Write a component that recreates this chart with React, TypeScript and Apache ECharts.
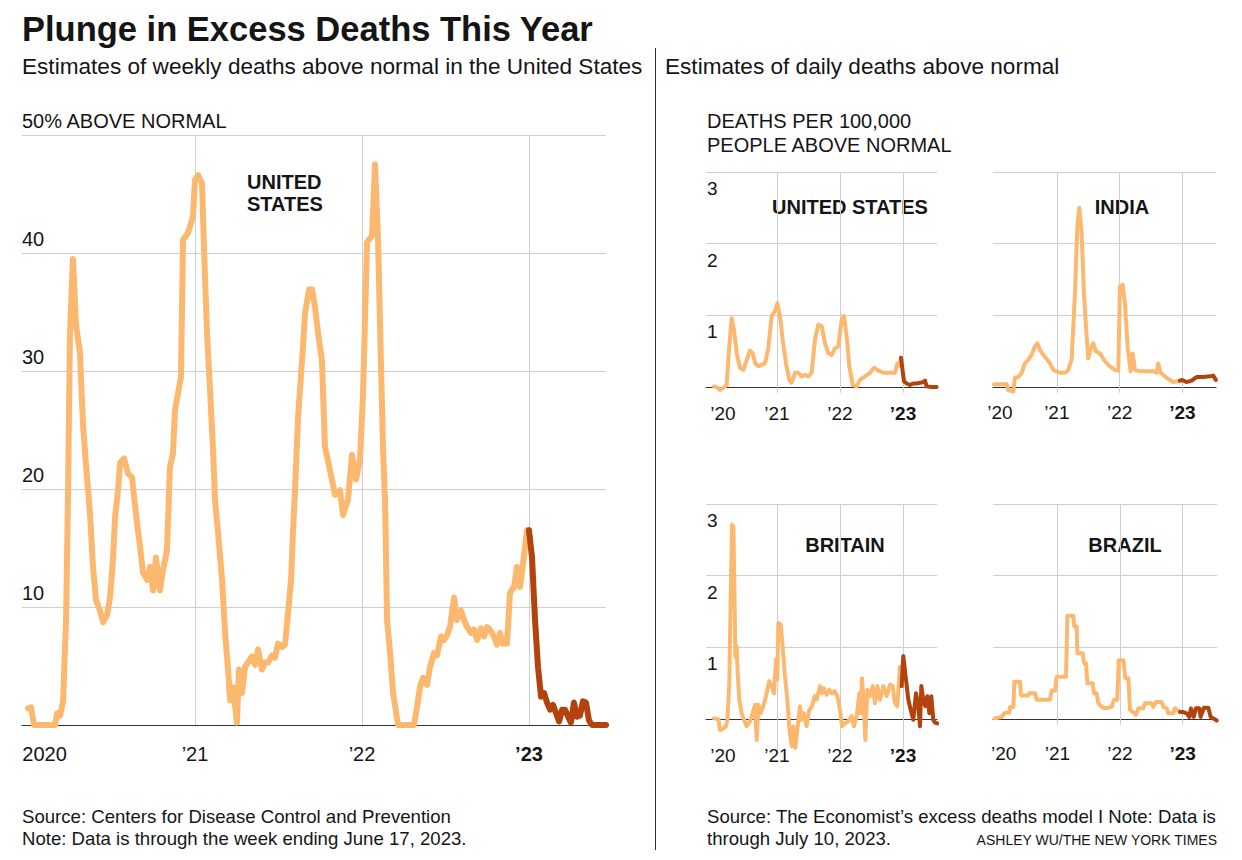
import React, { useEffect, useRef } from "react";
import * as echarts from "echarts";

// ---------- DATA ----------
const yearTicks = [2020, 2021, 2022, 2023];
const mainYearLabels = ["2020", "\u201921", "\u201922", "\u201923"];
const panelYearLabels = ["\u201920", "\u201921", "\u201922", "\u201923"];
const panelValueTicks = [1, 2, 3];

// Weekly excess deaths, % above normal, United States (CDC). [decimal year, %]
const usWeeklyBefore2023: [number, number][] = [
  [2020.0, 1.4], [2020.018, 1.5], [2020.036, 0], [2020.162, 0], [2020.174, 1.0], [2020.192, 0.8],
  [2020.21, 2.0], [2020.228, 9], [2020.24, 20], [2020.251, 33], [2020.269, 39.5], [2020.287, 34],
  [2020.311, 31.5], [2020.329, 25.5], [2020.353, 21], [2020.371, 18], [2020.389, 13.4], [2020.407, 10.6],
  [2020.431, 9.7], [2020.449, 8.7], [2020.473, 9.3], [2020.491, 10.8], [2020.509, 14], [2020.521, 17.6],
  [2020.539, 19.9], [2020.551, 22.2], [2020.575, 22.6], [2020.599, 21.3], [2020.623, 21], [2020.635, 19.3],
  [2020.653, 17.1], [2020.671, 15.1], [2020.689, 12.9], [2020.713, 12.3], [2020.731, 13.4], [2020.749, 11.4],
  [2020.766, 14.2], [2020.79, 11.4], [2020.808, 13.1], [2020.832, 14.8], [2020.85, 21.9], [2020.868, 23],
  [2020.88, 26.7], [2020.898, 28.1], [2020.916, 29.5], [2020.928, 41.1], [2020.958, 41.7], [2020.988, 43.1],
  [2021.0, 46.2], [2021.018, 46.6], [2021.042, 45.9], [2021.054, 40.3], [2021.072, 33.2], [2021.09, 28.4],
  [2021.108, 23.3], [2021.12, 19], [2021.138, 16.3], [2021.162, 12.3], [2021.18, 7.8], [2021.198, 4.7],
  [2021.21, 2.1], [2021.228, 3.2], [2021.251, 0.2], [2021.263, 4.7], [2021.281, 2.7], [2021.299, 4.9],
  [2021.317, 5.3], [2021.341, 5.8], [2021.359, 5.1], [2021.377, 6.4], [2021.401, 4.7], [2021.419, 5.3],
  [2021.437, 5.3], [2021.461, 5.9], [2021.479, 5.7], [2021.497, 6.9], [2021.521, 6.6], [2021.539, 6.8],
  [2021.557, 9.5], [2021.575, 12.3], [2021.587, 16.5], [2021.599, 19.9], [2021.617, 26.1], [2021.641, 30.9],
  [2021.659, 34.9], [2021.683, 36.9], [2021.701, 36.9], [2021.719, 35.4], [2021.737, 33.2], [2021.76, 30.9],
  [2021.778, 23.6], [2021.808, 21.6], [2021.838, 19.5], [2021.868, 19.9], [2021.886, 17.8], [2021.916, 19.1],
  [2021.94, 22.9], [2021.964, 20.8], [2021.988, 22.5], [2022.006, 28], [2022.03, 40.9], [2022.06, 41.5],
  [2022.078, 47.5], [2022.096, 41.1], [2022.114, 30.3], [2022.126, 23.3], [2022.138, 19], [2022.15, 8.9],
  [2022.168, 6.1], [2022.186, 2.7], [2022.216, 0], [2022.311, 0], [2022.329, 1.5], [2022.347, 3.2],
  [2022.365, 4], [2022.389, 3.4], [2022.407, 4.9], [2022.431, 6.1], [2022.449, 5.9], [2022.473, 7.5],
  [2022.491, 7.2], [2022.509, 7.6], [2022.527, 8.3], [2022.551, 10.8], [2022.569, 8.9], [2022.593, 9.7],
  [2022.611, 8.9], [2022.629, 8.3], [2022.653, 7.8], [2022.671, 8.1], [2022.689, 7.2], [2022.713, 8.2],
  [2022.731, 7.5], [2022.749, 8.3], [2022.766, 8.1], [2022.79, 7.5], [2022.808, 6.8], [2022.826, 7.8],
  [2022.844, 6.9], [2022.868, 6.9], [2022.886, 11.2], [2022.91, 11.7], [2022.928, 13.4], [2022.946, 11.7],
  [2022.964, 13.7], [2022.988, 16.5], [2023.0, 16.5],
];
const usWeekly2023: [number, number][] = [
  [2023.0, 16.5], [2023.018, 14.2], [2023.036, 8.9], [2023.054, 4.9], [2023.072, 2.4], [2023.09, 2.7],
  [2023.108, 1.9], [2023.126, 1.3], [2023.144, 1.7], [2023.162, 1.0], [2023.18, 0.3], [2023.198, 1.3],
  [2023.216, 1.3], [2023.234, 0.7], [2023.251, 0.2], [2023.269, 1.9], [2023.287, 0.7], [2023.305, 0.8],
  [2023.323, 2.0], [2023.341, 1.9], [2023.359, 0.4], [2023.377, 0], [2023.461, 0],
];

// Daily excess deaths per 100,000 people (The Economist). [decimal year, value]
const usDailyBefore2023: [number, number][] = [
  [2020.0, 0.01], [2020.042, 0], [2020.095, -0.04], [2020.148, -0.01], [2020.201, 0.03], [2020.243, 0.57],
  [2020.28, 0.96], [2020.317, 0.8], [2020.36, 0.47], [2020.413, 0.27], [2020.466, 0.24], [2020.519, 0.38],
  [2020.571, 0.51], [2020.614, 0.47], [2020.656, 0.33], [2020.704, 0.29], [2020.757, 0.31], [2020.81, 0.33],
  [2020.862, 0.54], [2020.915, 0.99], [2020.968, 1.06], [2021.005, 1.17], [2021.048, 0.99], [2021.09, 0.66],
  [2021.143, 0.33], [2021.196, 0.1], [2021.233, 0.06], [2021.286, 0.2], [2021.339, 0.2], [2021.392, 0.15],
  [2021.444, 0.17], [2021.497, 0.15], [2021.55, 0.2], [2021.603, 0.66], [2021.656, 0.87], [2021.709, 0.85],
  [2021.762, 0.61], [2021.815, 0.47], [2021.868, 0.45], [2021.921, 0.54], [2021.974, 0.57], [2022.026, 0.94],
  [2022.063, 0.99], [2022.106, 0.71], [2022.148, 0.29], [2022.201, 0.03], [2022.265, 0.01], [2022.317, 0.1],
  [2022.397, 0.15], [2022.476, 0.2], [2022.54, 0.27], [2022.608, 0.23], [2022.688, 0.2], [2022.794, 0.2],
  [2022.873, 0.2], [2022.91, 0.33], [2022.942, 0.3], [2022.968, 0.41],
];
const usDaily2023: [number, number][] = [
  [2022.968, 0.41], [2023.016, 0.08], [2023.058, 0.05], [2023.111, 0.03], [2023.164, 0.05], [2023.217, 0.05],
  [2023.27, 0.06], [2023.323, 0.07], [2023.349, 0.09], [2023.376, 0.01], [2023.455, 0], [2023.534, 0],
];

const indiaDailyBefore2023: [number, number][] = [
  [2020.0, 0.04], [2020.202, 0.04], [2020.228, -0.04], [2020.308, -0.06], [2020.334, 0.13], [2020.387, 0.14],
  [2020.44, 0.2], [2020.493, 0.33], [2020.546, 0.38], [2020.599, 0.45], [2020.653, 0.57], [2020.69, 0.61],
  [2020.732, 0.52], [2020.785, 0.45], [2020.849, 0.38], [2020.891, 0.33], [2020.944, 0.24], [2020.997, 0.22],
  [2021.05, 0.2], [2021.13, 0.2], [2021.183, 0.24], [2021.236, 0.38], [2021.289, 1.31], [2021.326, 2.24],
  [2021.358, 2.5], [2021.395, 2.15], [2021.432, 1.31], [2021.464, 0.85], [2021.501, 0.4], [2021.538, 0.54],
  [2021.581, 0.61], [2021.623, 0.5], [2021.687, 0.47], [2021.767, 0.36], [2021.846, 0.29], [2021.926, 0.24],
  [2021.979, 0.23], [2022.005, 1.4], [2022.048, 1.43], [2022.085, 1.17], [2022.127, 0.57], [2022.175, 0.22],
  [2022.207, 0.47], [2022.244, 0.24], [2022.324, 0.22], [2022.43, 0.22], [2022.536, 0.22], [2022.589, 0.2],
  [2022.615, 0.33], [2022.653, 0.2], [2022.748, 0.13], [2022.854, 0.07], [2022.96, 0.09],
];
const indiaDaily2023: [number, number][] = [
  [2022.96, 0.09], [2022.997, 0.1], [2023.066, 0.07], [2023.146, 0.09], [2023.225, 0.14], [2023.332, 0.14],
  [2023.438, 0.15], [2023.491, 0.16], [2023.533, 0.1],
];

const britainDailyBefore2023: [number, number][] = [
  [2020.0, 0.01], [2020.069, 0], [2020.095, -0.15], [2020.148, -0.13], [2020.19, -0.1], [2020.212, -0.01],
  [2020.243, 0.5], [2020.265, 1.67], [2020.286, 2.71], [2020.307, 2.69], [2020.323, 1.9], [2020.339, 0.87],
  [2020.36, 1.01], [2020.376, 0.64], [2020.402, 0.27], [2020.439, 0.08], [2020.476, -0.01], [2020.519, -0.1],
  [2020.571, -0.03], [2020.614, 0.08], [2020.651, 0.2], [2020.677, -0.29], [2020.704, 0.2], [2020.741, 0.08],
  [2020.783, 0.18], [2020.825, 0.32], [2020.878, 0.53], [2020.915, 0.46], [2020.952, 0.36], [2020.984, 0.83],
  [2021.005, 0.55], [2021.021, 1.34], [2021.058, 1.32], [2021.09, 1.01], [2021.122, 0.64], [2021.164, 0.27],
  [2021.196, -0.13], [2021.233, -0.38], [2021.259, -0.1], [2021.291, -0.4], [2021.323, -0.15], [2021.365, 0.18],
  [2021.392, -0.01], [2021.429, 0.08], [2021.471, -0.1], [2021.513, 0.13], [2021.556, 0.18], [2021.598, 0.32],
  [2021.63, 0.27], [2021.683, 0.46], [2021.714, 0.36], [2021.746, 0.43], [2021.788, 0.34], [2021.831, 0.41],
  [2021.873, 0.36], [2021.915, 0.39], [2021.958, 0.32], [2022.0, 0.13], [2022.032, -0.1], [2022.079, -0.06],
  [2022.132, -0.03], [2022.185, 0.04], [2022.222, -0.1], [2022.265, 0.04], [2022.307, 0.36], [2022.328, 0.08],
  [2022.349, 0.57], [2022.37, 0.32], [2022.402, -0.29], [2022.434, 0.41], [2022.476, 0.32], [2022.519, 0.46],
  [2022.556, 0.22], [2022.593, 0.46], [2022.635, 0.27], [2022.688, 0.46], [2022.741, 0.32], [2022.794, 0.48],
  [2022.836, 0.46], [2022.873, 0.22], [2022.91, 0.18], [2022.952, 0.73], [2022.979, 0.46],
];
const britainDaily2023: [number, number][] = [
  [2022.979, 0.46], [2023.005, 0.88], [2023.048, 0.55], [2023.085, 0.27], [2023.122, 0.13], [2023.164, -0.01],
  [2023.206, 0.36], [2023.238, 0.22], [2023.27, -0.1], [2023.291, 0.46], [2023.323, 0.27], [2023.354, 0.18],
  [2023.386, 0.32], [2023.418, 0.08], [2023.45, 0.32], [2023.481, -0.01], [2023.508, -0.05], [2023.545, -0.06],
];

const brazilDailyBefore2023: [number, number][] = [
  [2020.0, 0.01], [2020.112, 0.03], [2020.165, 0.09], [2020.234, 0.09], [2020.245, 0.17], [2020.298, 0.17],
  [2020.314, 0.52], [2020.404, 0.52], [2020.42, 0.33], [2020.537, 0.33], [2020.553, 0.36], [2020.644, 0.36],
  [2020.67, 0.27], [2020.883, 0.27], [2020.91, 0.4], [2020.963, 0.4], [2020.989, 0.59], [2021.138, 0.59],
  [2021.16, 1.44], [2021.255, 1.44], [2021.271, 1.29], [2021.309, 1.29], [2021.319, 0.92], [2021.404, 0.92],
  [2021.426, 0.78], [2021.457, 0.78], [2021.479, 0.5], [2021.564, 0.5], [2021.585, 0.36], [2021.628, 0.36],
  [2021.654, 0.22], [2021.707, 0.17], [2021.761, 0.15], [2021.867, 0.17], [2021.904, 0.27], [2021.957, 0.27],
  [2021.979, 0.82], [2022.053, 0.82], [2022.085, 0.57], [2022.133, 0.57], [2022.16, 0.13], [2022.255, 0.06],
  [2022.293, 0.15], [2022.372, 0.15], [2022.399, 0.22], [2022.505, 0.22], [2022.532, 0.17], [2022.574, 0.24],
  [2022.665, 0.24], [2022.691, 0.17], [2022.745, 0.15], [2022.771, 0.08], [2022.851, 0.08], [2022.878, 0.15],
  [2022.957, 0.1],
];
const brazilDaily2023: [number, number][] = [
  [2022.957, 0.1], [2023.0, 0.1], [2023.064, 0.08], [2023.106, 0.03], [2023.133, 0.15], [2023.176, 0.03],
  [2023.213, 0.15], [2023.266, 0.15], [2023.287, 0.03], [2023.34, 0.16], [2023.41, 0.16], [2023.447, 0.03],
  [2023.489, 0.01], [2023.543, -0.02],
];

// ---------- STYLE ----------
const FONT = '"Liberation Sans", Arial, Helvetica, sans-serif';
const TEXT = "#151515";
const LIGHT = "#fdb870";
const DARK = "#b3430c";
const GRID = "#cfcfcf";
const AXIS = "#333333";

function xFormatter(labels: string[]) {
  return (v: number) => {
    const i = yearTicks.indexOf(Math.round(v));
    if (i < 0) return "";
    if (i === 0) return "{first|" + labels[0] + "}";
    if (i === yearTicks.length - 1) return "{last|" + labels[i] + "}";
    return labels[i];
  };
}

const panels = [
  { name: "UNITED STATES", before: usDailyBefore2023, after: usDaily2023, left: 706, top: 172, width: 231, yMin: -0.08, xMin: 2019.873, xMax: 2023.54, showY: true, margin: 11, pad: 18, titleX: 850, titleY: 207 },
  { name: "INDIA", before: indiaDailyBefore2023, after: indiaDaily2023, left: 993, top: 172, width: 223, yMin: -0.08, xMin: 2019.984, xMax: 2023.535, showY: false, margin: 10, pad: 12, titleX: 1122, titleY: 207 },
  { name: "BRITAIN", before: britainDailyBefore2023, after: britainDaily2023, left: 706, top: 504, width: 231, yMin: -0.42, xMin: 2019.873, xMax: 2023.54, showY: true, margin: -3, pad: 18, titleX: 845, titleY: 545 },
  { name: "BRAZIL", before: brazilDailyBefore2023, after: brazilDaily2023, left: 993, top: 504, width: 224, yMin: -0.08, xMin: 2019.973, xMax: 2023.548, showY: false, margin: 19, pad: 18, titleX: 1125, titleY: 545 },
];
const PX_PER_UNIT = 71.7;

function txt(text: string, x: number, y: number, size: number, weight = "normal", align = "left", extra: any = {}) {
  return {
    type: "text",
    x,
    y,
    silent: true,
    style: { text, fontSize: size, fontWeight: weight, fontFamily: FONT, fill: TEXT, align, verticalAlign: "middle", ...extra },
  };
}

function buildOption() {
  const grids: any[] = [{ left: 22, top: 135, width: 584, height: 590 }];
  const xAxes: any[] = [
    {
      type: "value", gridIndex: 0, min: 2019.964, max: 2023.461,
      axisLine: { show: true, onZero: true, lineStyle: { color: AXIS, width: 1 } },
      axisTick: { show: false }, splitLine: { show: false },
      axisLabel: {
        customValues: yearTicks, formatter: xFormatter(mainYearLabels), margin: 19,
        fontSize: 20, fontFamily: FONT, color: TEXT,
        rich: {
          first: { padding: [0, 0, 0, 33], fontSize: 20, fontFamily: FONT, color: TEXT },
          last: { fontWeight: "bold", fontSize: 20, fontFamily: FONT, color: TEXT },
        },
      },
    },
  ];
  const yAxes: any[] = [
    {
      type: "value", gridIndex: 0, min: 0, max: 50, interval: 10,
      axisLine: { show: false }, axisTick: { show: false },
      splitLine: { show: true, lineStyle: { color: GRID, width: 1 } },
      axisLabel: {
        inside: true, margin: 0, verticalAlign: "bottom", padding: [0, 0, 4, 0],
        fontSize: 20, fontFamily: FONT, color: TEXT,
        formatter: (v: number) => (v === 0 ? "" : v === 50 ? "50% ABOVE NORMAL" : String(v)),
      },
    },
  ];
  const series: any[] = [
    {
      type: "line", xAxisIndex: 0, yAxisIndex: 0, data: usWeeklyBefore2023, showSymbol: false, symbol: "none",
      lineStyle: { color: LIGHT, width: 6, cap: "round", join: "round" }, z: 3,
      markLine: {
        silent: true, symbol: ["none", "none"], label: { show: false }, z: 1, animation: false,
        lineStyle: { color: GRID, width: 1, type: "solid" },
        data: yearTicks.slice(1).map((y) => ({ xAxis: y })),
      },
    },
    {
      type: "line", xAxisIndex: 0, yAxisIndex: 0, data: usWeekly2023, showSymbol: false, symbol: "none",
      lineStyle: { color: DARK, width: 6, cap: "round", join: "round" }, z: 4,
    },
  ];

  panels.forEach((p, k) => {
    const gi = k + 1;
    grids.push({ left: p.left, top: p.top, width: p.width, height: (3 - p.yMin) * PX_PER_UNIT });
    xAxes.push({
      type: "value", gridIndex: gi, min: p.xMin, max: p.xMax,
      axisLine: { show: true, onZero: true, lineStyle: { color: AXIS, width: 1 } },
      axisTick: { show: false }, splitLine: { show: false },
      axisLabel: {
        customValues: yearTicks, formatter: xFormatter(panelYearLabels), margin: p.margin,
        fontSize: 19, fontFamily: FONT, color: TEXT,
        rich: {
          first: { padding: [0, 0, 0, p.pad], fontSize: 19, fontFamily: FONT, color: TEXT },
          last: { fontWeight: "bold", fontSize: 19, fontFamily: FONT, color: TEXT },
        },
      },
    });
    yAxes.push({
      type: "value", gridIndex: gi, min: p.yMin, max: 3,
      axisLine: { show: false }, axisTick: { show: false }, splitLine: { show: false },
      axisLabel: {
        show: p.showY, customValues: panelValueTicks, inside: true, margin: 1,
        verticalAlign: "top", padding: [7, 0, 0, 0],
        fontSize: 19, fontFamily: FONT, color: TEXT, formatter: (v: number) => String(v),
      },
    });
    series.push({
      type: "line", xAxisIndex: gi, yAxisIndex: gi, data: p.before, showSymbol: false, symbol: "none",
      lineStyle: { color: LIGHT, width: 4, cap: "round", join: "round" }, z: 3,
      markLine: {
        silent: true, symbol: ["none", "none"], label: { show: false }, z: 1, animation: false,
        lineStyle: { color: GRID, width: 1, type: "solid" },
        data: [
          ...yearTicks.slice(1).map((y) => ({ xAxis: y })),
          ...panelValueTicks.map((v) => ({ yAxis: v })),
        ],
      },
    });
    series.push({
      type: "line", xAxisIndex: gi, yAxisIndex: gi, data: p.after, showSymbol: false, symbol: "none",
      lineStyle: { color: DARK, width: 4, cap: "round", join: "round" }, z: 4,
    });
  });

  const graphics: any[] = [
    txt("Plunge in Excess Deaths This Year", 22, 29, 34.5, "bold"),
    txt("Estimates of weekly deaths above normal in the United States", 22, 66, 22.6),
    txt("Estimates of daily deaths above normal", 665, 66, 22.6),
    { type: "line", silent: true, shape: { x1: 655.5, y1: 48, x2: 655.5, y2: 850 }, style: { stroke: AXIS, lineWidth: 1 } },
    txt("DEATHS PER 100,000", 707, 121, 20),
    txt("PEOPLE ABOVE NORMAL", 707, 145, 20),
    txt("UNITED\nSTATES", 247, 193, 20, "bold", "left", { lineHeight: 22 }),
    ...panels.map((p) => txt(p.name, p.titleX, p.titleY, 20, "bold", "center")),
    txt("Source: Centers for Disease Control and Prevention", 22, 816, 18.6),
    txt("Note: Data is through the week ending June 17, 2023.", 22, 838, 18.6),
    txt("Source: The Economist\u2019s excess deaths model I Note: Data is", 707, 816, 18.6),
    txt("through July 10, 2023.", 707, 838, 18.6),
    txt("ASHLEY WU/THE NEW YORK TIMES", 1217, 840, 14, "normal", "right"),
  ];

  return {
    animation: false,
    backgroundColor: "#ffffff",
    grid: grids,
    xAxis: xAxes,
    yAxis: yAxes,
    series,
    graphic: graphics,
  };
}

export default function App() {
  const ref = useRef<HTMLDivElement>(null);
  useEffect(() => {
    if (!ref.current) return;
    const chart = echarts.init(ref.current, null, { renderer: "svg", width: 1242, height: 860 });
    chart.setOption(buildOption() as any);
    return () => chart.dispose();
  }, []);
  return (
    <div
      ref={ref}
      style={{ position: "absolute", left: 0, top: 0, width: 1242, height: 860, background: "#ffffff" }}
    />
  );
}
